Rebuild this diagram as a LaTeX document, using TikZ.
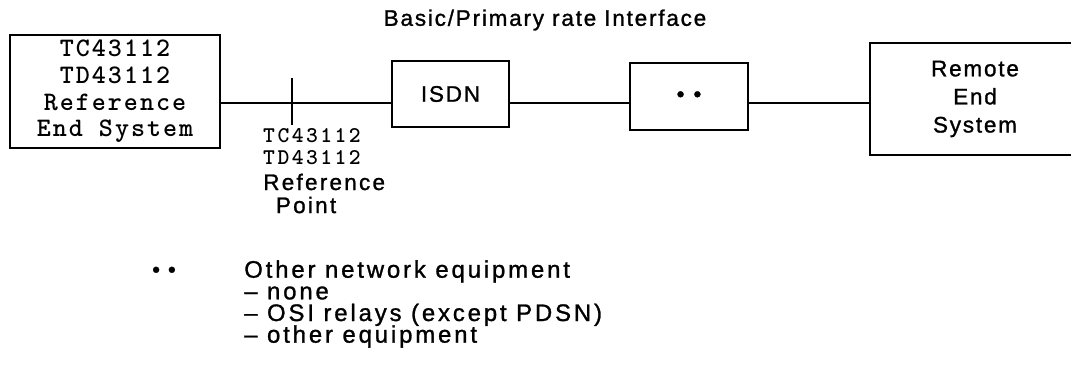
\documentclass[tikz,border=0pt]{standalone}
\usepackage{fontspec}
\setmainfont{Liberation Sans}[LetterSpace=8,FakeBold=1.2]
\newfontfamily\typewr{lmmonolt10-bold}[Extension=.otf,LetterSpace=7.5]
\usetikzlibrary{positioning,calc}
\tikzset{
  fig/.style={font=\fontsize{16}{19}\selectfont},
  box/.style={draw,line width=1.6pt,align=center,inner sep=2pt},
  ln/.style={line width=1.3pt},
  twbig/.style={font=\typewr\fontsize{19}{19}\selectfont,align=center,inner sep=0pt},
  twsmall/.style={font=\typewr\addfontfeature{LetterSpace=11}\fontsize{16}{16}\selectfont,
                  inner sep=0pt},
  lbl/.style={align=left,inner sep=0pt},
}

\begin{document}
\begin{tikzpicture}[fig,x=0.25mm,y=-0.25mm]
\useasboundingbox (0,0) rectangle (1071,383);

\node[box,twbig,minimum width=52.5mm,minimum height=28.25mm] (les) at (115,91.5)
  {TC43112\\TD43112\\Reference\\End System};
\node[box,minimum width=29.25mm,minimum height=16.5mm] (isdn) at (450.5,94) {ISDN};
\node[box,minimum width=29.5mm,minimum height=16.75mm] (other) at (689,96.5)
  {\textbullet\hspace{0.4em}\textbullet};
\node[box,minimum width=52.5mm,minimum height=28mm,
      font=\fontsize{16}{20}\selectfont] (res) at (975,99)
  {Remote\\End\\System};

\node (bri) at (545,20) {Basic/Primary rate Interface};

% the line and the reference point on it
\coordinate (bus) at (0,103);
\draw[ln] (les.east |- bus) -- (isdn.west |- bus);
\draw[ln] (isdn.east |- bus) -- (other.west |- bus);
\draw[ln] (other.east |- bus) -- (res.west |- bus);

\coordinate (rp) at (292,103);
\draw[ln] ($(rp)+(0,-25)$) -- ($(rp)+(0,22)$);
\node[twsmall] (rpcodea) at (312,136) {TC43112};
\node[twsmall] (rpcodeb) at (312,158) {TD43112};
\node[lbl,anchor=west,font=\addfontfeature{LetterSpace=10}\fontsize{16}{16.4}\selectfont]
  (rpname) at (263,193.5) {Reference\\\hspace*{9pt}Point};

% legend
\node (legdots) at (164,272) {\textbullet\hspace{0.35em}\textbullet};
\node[lbl,anchor=west,
      font={\addfontfeature{LetterSpace=12}\fontsize{17}{15.4}\selectfont\lineskiplimit=-20pt\relax}]
  (legtext) at (244,304)
  {Other network equipment\\– none\\– OSI relays (except PDSN)\\– other equipment};
\end{tikzpicture}
\end{document}
